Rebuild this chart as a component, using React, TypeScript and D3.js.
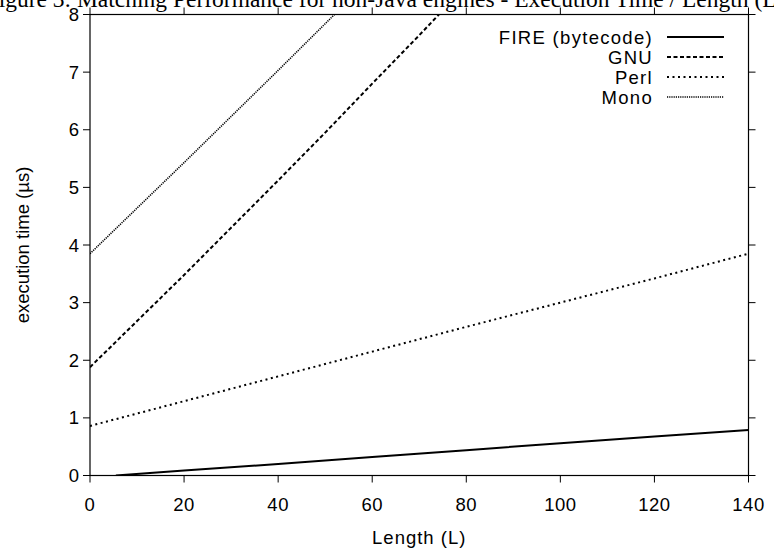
import React from "react";
import * as d3 from "d3";

const W = 774;
const H = 551;

const titleText = "Figure 3: Matching Performance for non-Java engines - Execution Time / Length (L)";
const xLabel = "Length (L)";
const yLabel = "execution time (µs)";
const xTicks = [0, 20, 40, 60, 80, 100, 120, 140];
const yTicks = [0, 1, 2, 3, 4, 5, 6, 7, 8];

const fireL = [5.5, 20, 40, 60, 80, 100, 120, 140];
const fireT = [0, 0.085, 0.2, 0.32, 0.44, 0.56, 0.675, 0.79];
const gnuL = [0, 10, 20, 30, 40, 50, 60, 70, 80];
const gnuT = [1.88, 2.68, 3.48, 4.3, 5.12, 5.95, 6.8, 7.64, 8.5];
const perlL = [0, 20, 40, 60, 80, 100, 120, 140];
const perlT = [0.86, 1.29, 1.72, 2.15, 2.58, 3.0, 3.42, 3.85];
const monoL = [0, 10, 20, 30, 40, 50, 60];
const monoT = [3.85, 4.64, 5.43, 6.23, 7.03, 7.84, 8.65];

const seriesNames = ["FIRE (bytecode)", "GNU", "Perl", "Mono"];

export default function App() {
  const x = d3.scaleLinear().domain([0, 140]).range([90, 748.5]);
  const y = d3.scaleLinear().domain([0, 8]).range([475.5, 14.5]);
  const line = d3
    .line<[number, number]>()
    .x((d) => x(d[0]))
    .y((d) => y(d[1]));

  const zip = (a: number[], b: number[]) => a.map((v, i) => [v, b[i]] as [number, number]);
  const series = [
    { name: seriesNames[0], data: zip(fireL, fireT), dash: "none", w: 2 },
    { name: seriesNames[1], data: zip(gnuL, gnuT), dash: "4,2.5", w: 2 },
    { name: seriesNames[2], data: zip(perlL, perlT), dash: "2,3.5", w: 2 },
    { name: seriesNames[3], data: zip(monoL, monoT), dash: "1.2,1", w: 1.6 },
  ];

  const [x0, x1] = x.range();
  const [y0, y1] = y.range();
  const font = "Liberation Sans, Arial, sans-serif";
  const tick = 7;

  return (
    <svg
      width={W}
      height={H}
      style={{ position: "absolute", left: 0, top: 0, display: "block", background: "#fff" }}
    >
      <defs>
        <clipPath id="plot">
          <rect x={x0} y={y1} width={x1 - x0} height={y0 - y1} />
        </clipPath>
      </defs>
      <rect width={W} height={H} fill="#fff" />
      <text
        x={385}
        y={7}
        textAnchor="middle"
        fontFamily="Liberation Serif, Times New Roman, serif"
        fontSize={23.5}
        fill="#000"
      >
        {titleText}
      </text>
      {/* ticks */}
      <g stroke="#000" strokeWidth={1}>
        {xTicks.map((t) => (
          <g key={"xt" + t}>
            <line x1={x(t)} x2={x(t)} y1={y0} y2={y0 + tick} />
            <line x1={x(t)} x2={x(t)} y1={y1} y2={y1 - tick} />
          </g>
        ))}
        {yTicks.map((t) => (
          <g key={"yt" + t}>
            <line x1={x0} x2={x0 - tick} y1={y(t)} y2={y(t)} />
            <line x1={x1} x2={x1 + tick} y1={y(t)} y2={y(t)} />
          </g>
        ))}
      </g>
      <rect
        x={x0}
        y={y1}
        width={x1 - x0}
        height={y0 - y1}
        fill="none"
        stroke="#000"
        strokeWidth={1.2}
      />
      {/* tick labels */}
      <g fontFamily={font} fontSize={18.5} fill="#000">
        {xTicks.map((t) => (
          <text key={"xl" + t} x={x(t)} y={511} textAnchor="middle" letterSpacing={0.5}>
            {t}
          </text>
        ))}
        {yTicks.map((t) => (
          <text key={"yl" + t} x={79} y={y(t) + 6.5} textAnchor="end">
            {t}
          </text>
        ))}
        <text x={(x0 + x1) / 2} y={544} textAnchor="middle" letterSpacing={1}>
          {xLabel}
        </text>
        <text
          transform={`translate(29, ${(y0 + y1) / 2}) rotate(-90)`}
          textAnchor="middle"
        >
          {yLabel}
        </text>
      </g>
      {/* series */}
      <g clipPath="url(#plot)" fill="none" stroke="#000">
        {series.map((s) => (
          <path
            key={s.name}
            d={line(s.data) || ""}
            strokeWidth={s.w}
            strokeDasharray={s.dash}
          />
        ))}
      </g>
      {/* legend */}
      <g fontFamily={font} fontSize={18.5} fill="#000">
        {series.map((s, i) => {
          const cy = 37 + i * 20;
          return (
            <g key={"lg" + s.name}>
              <text x={653} y={cy + 6.5} textAnchor="end" letterSpacing={1.3}>
                {s.name}
              </text>
              <line
                x1={667}
                x2={724}
                y1={cy}
                y2={cy}
                stroke="#000"
                strokeWidth={s.w}
                strokeDasharray={s.dash}
              />
            </g>
          );
        })}
      </g>
    </svg>
  );
}
